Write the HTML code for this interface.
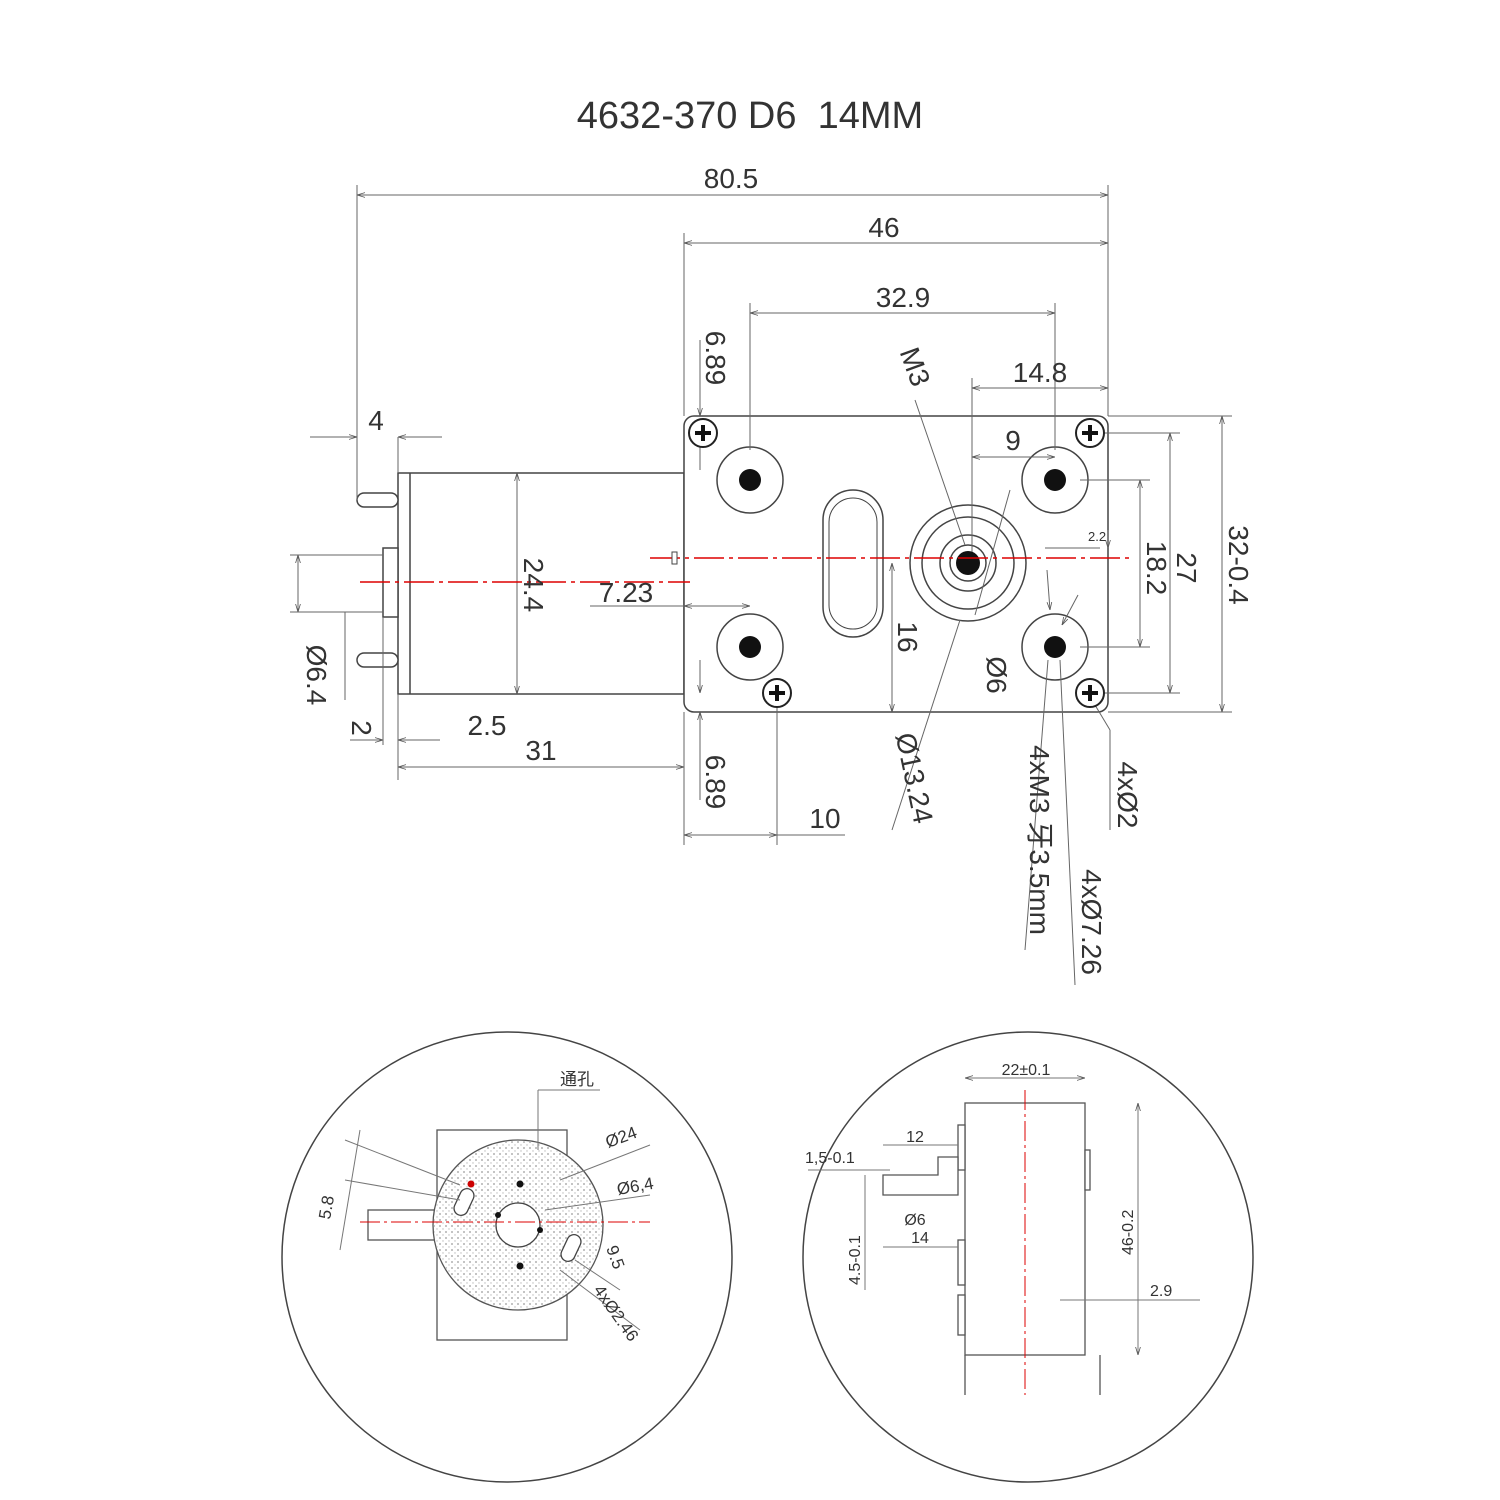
<!DOCTYPE html>
<html><head><meta charset="utf-8"><style>
html,body{margin:0;padding:0;background:#fff}
svg{display:block}
text{font-family:"Liberation Sans","Noto Sans CJK SC",sans-serif;fill:#333}
</style></head><body>
<svg width="1500" height="1500" viewBox="0 0 1500 1500" xmlns="http://www.w3.org/2000/svg">
<defs>
<marker id="a" viewBox="0 0 10 10" refX="10" refY="5" markerWidth="8" markerHeight="8" orient="auto-start-reverse"><path d="M0,2 L10,5 L0,8" fill="none" stroke="#555" stroke-width="1"/></marker>
<pattern id="dots" width="6" height="6" patternUnits="userSpaceOnUse"><circle cx="2" cy="2" r="0.9" fill="#999"/><circle cx="5" cy="5" r="0.7" fill="#bbb"/></pattern>
</defs>
<text x="750" y="128" font-size="38" text-anchor="middle" fill="#444">4632-370 D6&#160;&#160;14MM</text>

<!-- motor & gearbox shapes -->
<g stroke="#444" stroke-width="1.5" fill="#fff">
<rect x="398" y="473" width="286" height="221"/>
<rect x="383" y="548" width="15" height="69"/>
<rect x="357" y="493" width="41" height="14" rx="7"/>
<rect x="357" y="653" width="41" height="14" rx="7"/>
<line x1="410" y1="473" x2="410" y2="694"/>
<rect x="684" y="416" width="424" height="296" rx="10"/>
<rect x="823" y="490" width="60" height="147" rx="30"/>
<rect x="829" y="498" width="48" height="131" rx="24" stroke-width="1"/>
</g>
<g stroke="#444" stroke-width="1.5" fill="#fff">
<circle cx="750" cy="480" r="33"/><circle cx="750" cy="647" r="33"/>
<circle cx="1055" cy="480" r="33"/><circle cx="1055" cy="647" r="33"/>
<circle cx="968" cy="563" r="58"/><circle cx="968" cy="563" r="46"/><circle cx="968" cy="563" r="28"/>
<circle cx="968" cy="563" r="18"/>
</g>

<g stroke="#666" stroke-width="1" fill="none">
<line x1="357" y1="185" x2="357" y2="500"/>
<line x1="1108" y1="185" x2="1108" y2="416"/>
<line x1="684" y1="233" x2="684" y2="416"/>
<line x1="750" y1="303" x2="750" y2="450"/>
<line x1="1055" y1="303" x2="1055" y2="450"/>
<line x1="972" y1="378" x2="972" y2="563"/>
<line x1="357" y1="195" x2="1108" y2="195" marker-start="url(#a)" marker-end="url(#a)"/>
<line x1="684" y1="243" x2="1108" y2="243" marker-start="url(#a)" marker-end="url(#a)"/>
<line x1="750" y1="313" x2="1055" y2="313" marker-start="url(#a)" marker-end="url(#a)"/>
<line x1="972" y1="388" x2="1108" y2="388" marker-start="url(#a)" marker-end="url(#a)"/>
<line x1="972" y1="457" x2="1055" y2="457" marker-start="url(#a)" marker-end="url(#a)"/>
<line x1="310" y1="437" x2="357" y2="437" marker-end="url(#a)"/>
<line x1="442" y1="437" x2="398" y2="437" marker-end="url(#a)"/>
<line x1="398" y1="437" x2="398" y2="473"/>
<line x1="398" y1="694" x2="398" y2="780"/>
<line x1="398" y1="767" x2="684" y2="767" marker-start="url(#a)" marker-end="url(#a)"/>
<line x1="684" y1="712" x2="684" y2="845"/>
<line x1="350" y1="740" x2="383" y2="740" marker-end="url(#a)"/>
<line x1="440" y1="740" x2="398" y2="740" marker-end="url(#a)"/>
<line x1="383" y1="617" x2="383" y2="745"/>
<line x1="684" y1="835" x2="777" y2="835" marker-start="url(#a)" marker-end="url(#a)"/>
<line x1="777" y1="705" x2="777" y2="845"/>
<line x1="777" y1="835" x2="845" y2="835"/>
<line x1="700" y1="416" x2="700" y2="340" marker-start="url(#a)"/>
<line x1="700" y1="433" x2="700" y2="470"/>
<line x1="700" y1="712" x2="700" y2="800" marker-start="url(#a)"/>
<line x1="700" y1="693" x2="700" y2="660" marker-start="url(#a)"/>
<line x1="590" y1="606" x2="684" y2="606"/>
<line x1="684" y1="606" x2="750" y2="606" marker-start="url(#a)" marker-end="url(#a)"/>
<line x1="1108" y1="416" x2="1232" y2="416"/>
<line x1="1108" y1="712" x2="1232" y2="712"/>
<line x1="1222" y1="416" x2="1222" y2="712" marker-start="url(#a)" marker-end="url(#a)"/>
<line x1="1100" y1="433" x2="1180" y2="433"/>
<line x1="1100" y1="693" x2="1180" y2="693"/>
<line x1="1170" y1="433" x2="1170" y2="693" marker-start="url(#a)" marker-end="url(#a)"/>
<line x1="1080" y1="480" x2="1150" y2="480"/>
<line x1="1080" y1="647" x2="1150" y2="647"/>
<line x1="1140" y1="480" x2="1140" y2="647" marker-start="url(#a)" marker-end="url(#a)"/>
<line x1="1045" y1="548" x2="1100" y2="548"/>
<line x1="1108" y1="530" x2="1108" y2="548" marker-end="url(#a)"/>
<line x1="517" y1="473" x2="517" y2="694" marker-start="url(#a)" marker-end="url(#a)"/>
<line x1="290" y1="555" x2="383" y2="555"/>
<line x1="290" y1="612" x2="383" y2="612"/>
<line x1="298" y1="555" x2="298" y2="612" marker-start="url(#a)" marker-end="url(#a)"/>
<line x1="335" y1="612" x2="360" y2="612"/>
<line x1="345" y1="612" x2="345" y2="700"/>
<line x1="892" y1="563" x2="892" y2="712" marker-start="url(#a)" marker-end="url(#a)"/>
<line x1="915" y1="400" x2="965" y2="545"/>
<line x1="892" y1="830" x2="960" y2="620"/>
<line x1="1010" y1="490" x2="975" y2="615"/>
<line x1="1025" y1="950" x2="1048" y2="660"/>
<line x1="1075" y1="985" x2="1060" y2="660"/>
<line x1="1110" y1="830" x2="1110" y2="730"/>
<line x1="1110" y1="730" x2="1095" y2="705"/>
<line x1="1047" y1="570" x2="1050" y2="610" marker-end="url(#a)"/>
<line x1="1078" y1="595" x2="1062" y2="625" marker-end="url(#a)"/>
</g>

<g fill="#111">
<circle cx="750" cy="480" r="11"/><circle cx="750" cy="647" r="11"/>
<circle cx="1055" cy="480" r="11"/><circle cx="1055" cy="647" r="11"/>
<circle cx="968" cy="563" r="12"/>
</g>
<g stroke="#222" stroke-width="2" fill="#fff">
<circle cx="703" cy="433" r="14"/><circle cx="1090" cy="433" r="14"/>
<circle cx="777" cy="693" r="14"/><circle cx="1090" cy="693" r="14"/>
</g>
<g stroke="#111" stroke-width="4">
<path d="M695,433h16M703,425v16M1082,433h16M1090,425v16M769,693h16M777,685v16M1082,693h16M1090,685v16"/>
</g>
<g stroke="#d00" stroke-width="1.5" stroke-dasharray="30,5,4,5">
<line x1="650" y1="558" x2="1130" y2="558"/>
<line x1="360" y1="582" x2="690" y2="582"/>
</g>
<rect x="672" y="552" width="5" height="12" fill="#fff" stroke="#444"/>

<g font-size="28">
<text x="731" y="188" text-anchor="middle">80.5</text>
<text x="884" y="237" text-anchor="middle">46</text>
<text x="903" y="307" text-anchor="middle">32.9</text>
<text x="1040" y="382" text-anchor="middle">14.8</text>
<text x="1013" y="450" text-anchor="middle">9</text>
<text x="376" y="430" text-anchor="middle">4</text>
<text x="626" y="602" text-anchor="middle">7.23</text>
<text x="487" y="735" text-anchor="middle">2.5</text>
<text x="541" y="760" text-anchor="middle">31</text>
<text x="825" y="828" text-anchor="middle">10</text>
<text x="1088" y="541" font-size="13">2.2</text>
</g>
<g font-size="28">
<text transform="translate(706,358) rotate(90)" text-anchor="middle">6.89</text>
<text transform="translate(706,782) rotate(90)" text-anchor="middle">6.89</text>
<text transform="translate(524,585) rotate(90)" text-anchor="middle">24.4</text>
<text transform="translate(307,675) rotate(90)" text-anchor="middle">Ø6.4</text>
<text transform="translate(352,728) rotate(90)" text-anchor="middle">2</text>
<text transform="translate(898,637) rotate(90)" text-anchor="middle">16</text>
<text transform="translate(987,675) rotate(90)" text-anchor="middle">Ø6</text>
<text transform="translate(906,370) rotate(70)" text-anchor="middle">M3</text>
<text transform="translate(905,780) rotate(78)" text-anchor="middle">Ø13.24</text>
<text transform="translate(1147,568) rotate(90)" text-anchor="middle">18.2</text>
<text transform="translate(1177,568) rotate(90)" text-anchor="middle">27</text>
<text transform="translate(1229,565) rotate(90)" text-anchor="middle">32-0.4</text>
<text transform="translate(1030,840) rotate(90)" text-anchor="middle">4xM3 牙3.5mm</text>
<text transform="translate(1082,922) rotate(90)" text-anchor="middle">4xØ7.26</text>
<text transform="translate(1118,795) rotate(90)" text-anchor="middle">4xØ2</text>
</g>

<!-- bottom left circle -->
<circle cx="507" cy="1257" r="225" fill="none" stroke="#444" stroke-width="1.5"/>
<g stroke="#555" stroke-width="1.3" fill="#fff">
<rect x="437" y="1130" width="130" height="210"/>
<rect x="368" y="1210" width="69" height="30"/>
<circle cx="518" cy="1225" r="85"/>
</g>
<circle cx="518" cy="1225" r="84" fill="url(#dots)"/>
<g stroke="#444" stroke-width="1.3" fill="#fff">
<circle cx="518" cy="1225" r="22"/>
<rect x="457" y="1188" width="14" height="28" rx="7" transform="rotate(25 464 1202)"/>
<rect x="564" y="1234" width="14" height="28" rx="7" transform="rotate(25 571 1248)"/>
</g>
<g fill="#111"><circle cx="520" cy="1184" r="3.5"/><circle cx="520" cy="1266" r="3.5"/><circle cx="498" cy="1215" r="3"/><circle cx="540" cy="1230" r="3"/></g>
<circle cx="471" cy="1184" r="3.5" fill="#c00"/>
<line x1="360" y1="1222" x2="650" y2="1222" stroke="#d00" stroke-dasharray="20,4,3,4"/>
<g stroke="#777" stroke-width="1" fill="none">
<path d="M538,1090 L538,1150 M538,1090 L600,1090"/>
<line x1="560" y1="1180" x2="650" y2="1145"/><line x1="545" y1="1210" x2="650" y2="1195"/>
<line x1="345" y1="1180" x2="460" y2="1200"/><line x1="345" y1="1140" x2="460" y2="1185"/>
<line x1="360" y1="1130" x2="340" y2="1250"/>
<line x1="560" y1="1270" x2="640" y2="1330"/><line x1="575" y1="1260" x2="620" y2="1290"/>
</g>
<g font-size="17">
<text x="560" y="1085">通孔</text>
<text x="608" y="1148" transform="rotate(-20 608 1148)">Ø24</text>
<text x="618" y="1195" transform="rotate(-10 618 1195)">Ø6,4</text>
<text transform="translate(330,1220) rotate(-80)">5.8</text>
<text transform="translate(606,1248) rotate(70)">9.5</text>
<text transform="translate(593,1290) rotate(55)">4xØ2.46</text>
</g>

<!-- bottom right circle -->
<circle cx="1028" cy="1257" r="225" fill="none" stroke="#444" stroke-width="1.5"/>
<g stroke="#555" stroke-width="1.3" fill="#fff">
<rect x="965" y="1103" width="120" height="252"/>
<rect x="958" y="1125" width="7" height="45"/><rect x="958" y="1240" width="7" height="45"/><rect x="958" y="1295" width="7" height="40"/>
<rect x="1085" y="1150" width="5" height="40"/>
<path d="M883,1175 h55 v-18 h20 v38 h-75 z"/>
<path d="M965,1355 v40 M1100,1355 v40"/>
</g>
<line x1="1025" y1="1090" x2="1025" y2="1395" stroke="#d00" stroke-dasharray="20,4,3,4"/>
<g stroke="#777" stroke-width="1" fill="none">
<line x1="965" y1="1078" x2="1085" y2="1078" marker-start="url(#a)" marker-end="url(#a)"/>
<line x1="1138" y1="1103" x2="1138" y2="1355" marker-start="url(#a)" marker-end="url(#a)"/>
<line x1="883" y1="1145" x2="958" y2="1145"/>
<line x1="808" y1="1170" x2="890" y2="1170"/>
<line x1="865" y1="1175" x2="865" y2="1290"/>
<line x1="883" y1="1247" x2="958" y2="1247"/>
<line x1="1060" y1="1300" x2="1200" y2="1300"/>
</g>
<g font-size="16">
<text x="1026" y="1075" text-anchor="middle">22±0.1</text>
<text x="915" y="1142" text-anchor="middle">12</text>
<text x="805" y="1163">1,5-0.1</text>
<text x="915" y="1225" text-anchor="middle">Ø6</text>
<text x="920" y="1243" text-anchor="middle">14</text>
<text transform="translate(860,1285) rotate(-90)">4.5-0.1</text>
<text transform="translate(1133,1255) rotate(-90)">46-0.2</text>
<text x="1150" y="1296">2.9</text>
</g>
</svg>
</body></html>
